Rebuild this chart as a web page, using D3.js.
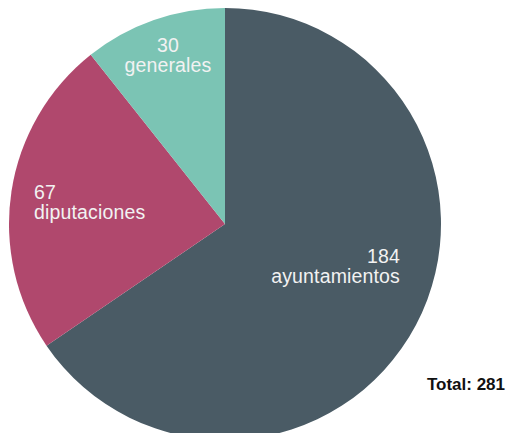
<!DOCTYPE html>
<html>
<head>
<meta charset="utf-8">
<script src="https://cdn.jsdelivr.net/npm/d3@7"></script>
<style>
  html, body { margin: 0; padding: 0; background: #ffffff; }
  svg { display: block; }
</style>
</head>
<body>
<svg id="chart" width="508" height="433"></svg>
<script>
// ---- data ----
const categories = ["ayuntamientos", "diputaciones", "generales"];
const values = [184, 67, 30];
const colors = ["#4a5b65", "#b0486d", "#7bc4b4"];
const totalLabel = "Total: ";

// ---- layout ----
const W = 508, H = 433;
const cx = 225, cy = 224, R = 216;
const labelLayout = [
  { x: 400, y: 263, anchor: "end" },
  { x: 34,  y: 199, anchor: "start" },
  { x: 168, y: 52,  anchor: "middle" }
];
const lineStep = 19.5;

const svg = d3.select("#chart");
const g = svg.append("g").attr("transform", `translate(${cx},${cy})`);

const pie = d3.pie().sort(null).value(d => d.v)
  .startAngle(0).endAngle(2 * Math.PI);
const data = categories.map((c, i) => ({ c, v: values[i], i }));
const arcs = pie(data);
const arc = d3.arc().innerRadius(0).outerRadius(R);

g.selectAll("path.slice").data(arcs).enter().append("path")
  .attr("class", "slice")
  .attr("d", arc)
  .attr("fill", d => colors[d.data.i]);

const labels = svg.selectAll("text.lbl").data(arcs).enter().append("text")
  .attr("class", "lbl")
  .attr("font-family", "'Liberation Sans', Arial, Helvetica, sans-serif")
  .attr("font-size", 19.5)
  .attr("letter-spacing", "0.15px")
  .attr("fill", "#f2f2f2")
  .attr("text-anchor", d => labelLayout[d.data.i].anchor);

labels.append("tspan")
  .attr("x", d => labelLayout[d.data.i].x)
  .attr("y", d => labelLayout[d.data.i].y)
  .text(d => d.data.v);
labels.append("tspan")
  .attr("x", d => labelLayout[d.data.i].x)
  .attr("dy", lineStep)
  .text(d => d.data.c);

svg.append("text")
  .attr("x", 505).attr("y", 390)
  .attr("text-anchor", "end")
  .attr("font-family", "'Liberation Sans', Arial, Helvetica, sans-serif")
  .attr("font-size", 17)
  .attr("font-weight", "bold")
  .attr("fill", "#111111")
  .text(totalLabel + d3.sum(values));
</script>
</body>
</html>
